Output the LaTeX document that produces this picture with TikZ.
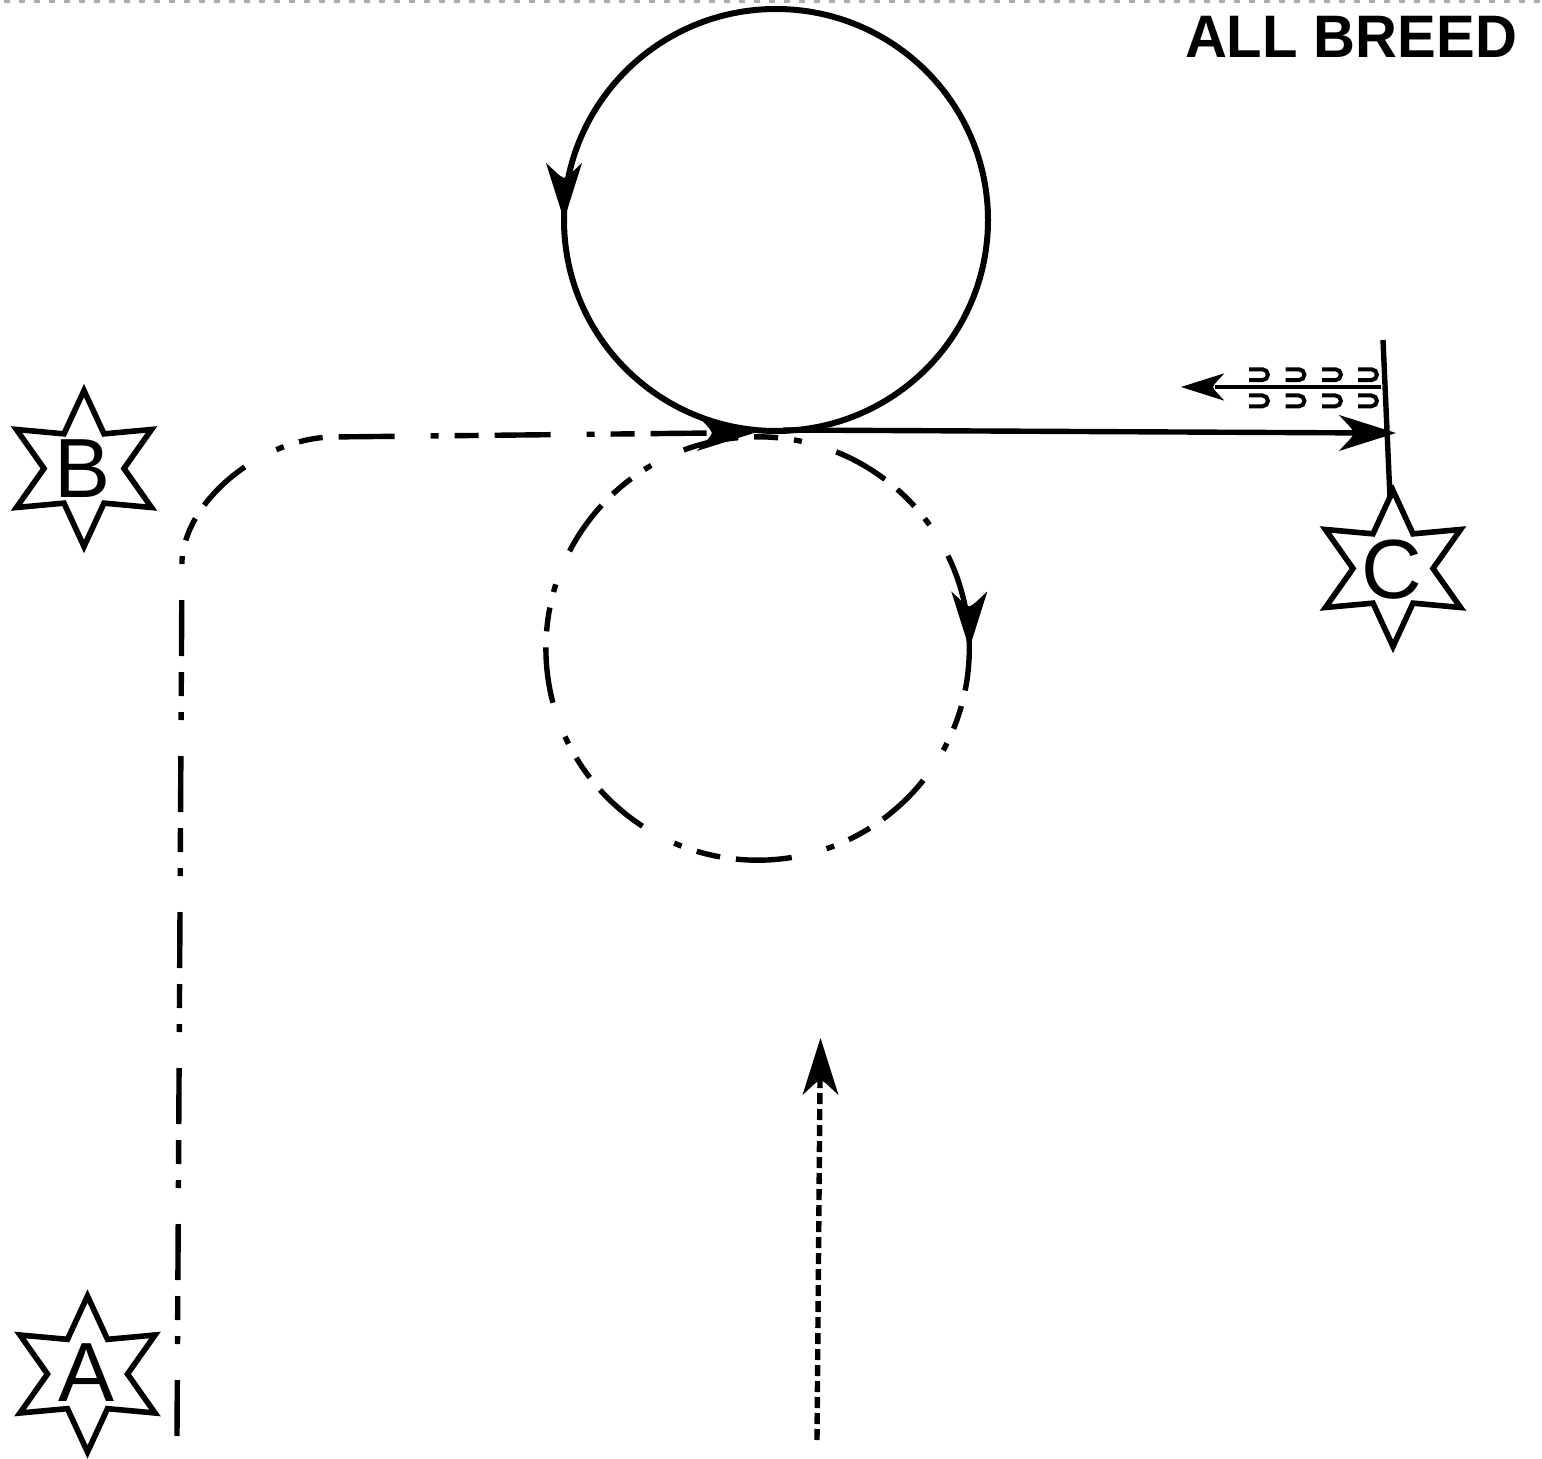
\documentclass[tikz,border=0pt]{standalone}
\usepackage{fontspec}
\setmainfont{Liberation Sans}
\usetikzlibrary{shapes.geometric}
\definecolor{edgegray}{HTML}{A3B0B9}
\newcommand{\arrowtip}[3]{\fill[shift={(#1)},rotate=#2,scale=#3] (0,0) -- (-57,18) .. controls (-49,9) and (-44,5) .. (-42,0) .. controls (-44,-5) and (-49,-9) .. (-57,-18) -- cycle;}
\newcommand{\starletter}[1]{\smash{\raisebox{-0.344em}{\makebox[0pt]{#1}}}}
\newcommand{\hook}[2]{\draw[hookline] (#1,#2) -- ++(13.5,0) arc (90:270:-5.4 and -5.4) -- ++(-13.5,0);}
\tikzset{
  starnode/.style={draw=black,line width=2.8pt,fill=white,star,star points=6,star point ratio=1.95,minimum size=78pt,inner sep=0pt,outer sep=0pt,miter limit=10,font=\fontsize{42}{48}\selectfont},
  thick line/.style={draw=black,line width=2.7pt},
  dashdot/.style={thick line,dash pattern=on 28pt off 18pt on 4pt off 8pt on 12pt off 8pt},
  shortdash/.style={thick line,dash pattern=on 5.5pt off 2.5pt},
  hookline/.style={draw=black,line width=2pt},
  title/.style={font=\fontsize{30}{34}\selectfont\bfseries,inner sep=0pt}
}
\begin{document}
\begin{tikzpicture}[x=.5pt,y=.5pt,yscale=-1]
\fill[white] (0,0) rectangle (1542,1459);
\useasboundingbox (0,0) rectangle (1542,1459);
% top edge
\coordinate (edgeL) at (3.7,1);
\coordinate (edgeR) at (1542,1);
\draw[draw=edgegray,line width=1.6pt,dash pattern=on 3pt off 4.5pt] (edgeL) -- (edgeR);
% title
\node[title,anchor=center] (titleNode) at (1351,37) {\scalebox{0.967}[1]{ALL BREED}};
% stars
\node[starnode] (starA) at (87.5,1374) {\hspace{-1pt}\raisebox{1.5pt}{\starletter{A}}};
\node[starnode] (starB) at (84,468.5) {\hspace{-1.5pt}\starletter{B}};
\node[starnode] (starC) at (1393,568.5) {\hspace{-1.5pt}\raisebox{-1.5pt}{\starletter{C}}};
% named points
\coordinate (solidTipLeft) at (564,220);
\coordinate (solidCircleLeft) at (564,220);
\coordinate (lineStart) at (783,430);
\coordinate (lineNotch) at (1354,432.9);
\coordinate (lineTip) at (1396,433);
\coordinate (barTop) at (1383,340);
\coordinate (barBottom) at (1390,498);
\coordinate (smallStart) at (1381,387);
\coordinate (smallNotch) at (1215,387);
\coordinate (smallTip) at (1181,387);
\coordinate (dashStart) at (177,1436);
\coordinate (dashCorner) at (182,560);
\coordinate (dashTop) at (330,437);
\coordinate (dashNotch) at (712,433);
\coordinate (dashTip) at (754,433);
\coordinate (circleTwoRight) at (969.3,648.5);
\coordinate (dotStart) at (817,1440);
\coordinate (dotNotch) at (820,1080);
\coordinate (dotTip) at (820.5,1038);
% circle one
\draw[thick line,line width=3pt] (solidCircleLeft) arc (180:540:212 and 211);
\arrowtip{solidTipLeft}{90}{1}
% line to C
\draw[thick line] (lineStart) -- (lineNotch);
\arrowtip{lineTip}{0}{1}
\draw[thick line] (barTop) -- (barBottom);
% small arrow
\draw[draw=black,line width=1.7pt] (smallStart) -- (smallNotch);
\arrowtip{smallTip}{180}{0.76}
% hooks
\hook{1249}{369.3}\hook{1285.5}{369.3}\hook{1322}{369.3}\hook{1358}{369.3}
\hook{1249}{395.5}\hook{1285.5}{395.5}\hook{1322}{395.5}\hook{1358}{395.5}
% dash-dot path
\draw[dashdot] (dashStart) -- (dashCorner) .. controls (186,500) and (260,440) .. (dashTop) -- (dashNotch);
\arrowtip{dashTip}{0}{1}
% circle two
\draw[dashdot,dash phase=58pt] (circleTwoRight) arc (0:-360:211.7 and 211.7);
\arrowtip{circleTwoRight}{90}{1}
% dotted arrow
\draw[shortdash] (dotStart) -- (dotNotch);
\arrowtip{dotTip}{-90}{1}
\end{tikzpicture}
\end{document}
